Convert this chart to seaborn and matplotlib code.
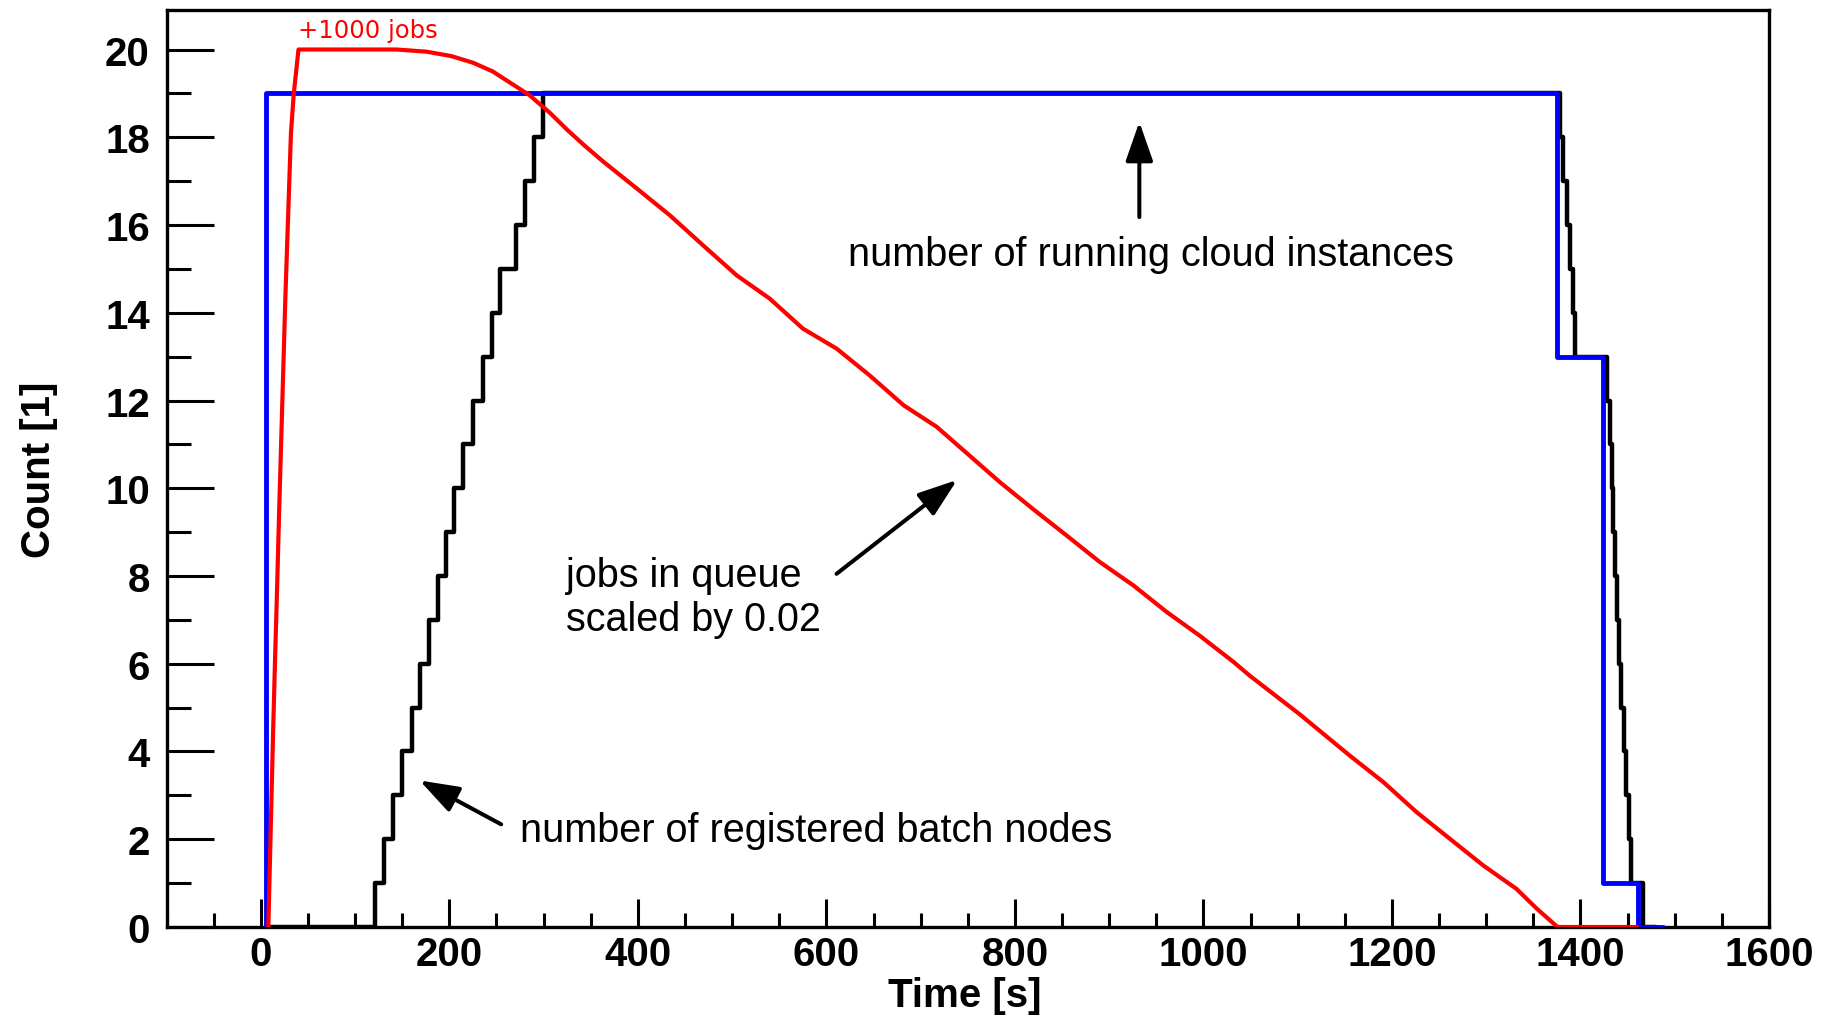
import matplotlib
matplotlib.use("Agg")
import matplotlib.pyplot as plt
from matplotlib.ticker import MultipleLocator
import seaborn as sns

# jobs in queue, scaled by 0.02 (time [s], count)
queue_t = [8, 13, 15, 17, 19.5, 26, 28.5, 32, 35, 40,
           144, 176, 202, 225, 246, 264, 285, 307, 326, 344,
           363, 399, 434, 469, 505, 540, 575, 611, 646, 682,
           717, 784, 819, 855, 890, 926, 961, 996, 1032, 1049,
           1102, 1155, 1191, 1226, 1262, 1297, 1332, 1354, 1373, 1376, 1460]
queue_v = [0, 4.4, 6.0, 7.5, 9.5, 14.3, 15.9, 18.1, 19.0, 20.0,
           20.0, 19.95, 19.85, 19.7, 19.5, 19.25, 18.96, 18.55, 18.15, 17.8,
           17.45, 16.83, 16.22, 15.54, 14.85, 14.32, 13.64, 13.18, 12.57, 11.89,
           11.4, 10.14, 9.53, 8.92, 8.32, 7.78, 7.18, 6.64, 6.04, 5.73,
           4.85, 3.91, 3.3, 2.62, 2.0, 1.40, 0.87, 0.41, 0.05, 0, 0]

# registered batch nodes (step changes)
nodes_t = [8, 121, 130.5, 140.4, 149.9, 159.9, 168.7, 178.6, 188.1, 196.3,
           204.8, 214.6, 224.6, 235.2, 245.8, 253.6, 270.6, 280.1, 289.7, 298.9,
           1378, 1381, 1386, 1389, 1392, 1394, 1428, 1431, 1433, 1435,
           1437, 1439, 1441, 1443, 1446, 1448, 1451, 1454, 1466, 1480]
nodes_v = [0, 1, 2, 3, 4, 5, 6, 7, 8, 9,
           10, 11, 12, 13, 14, 15, 16, 17, 18, 19,
           18, 17, 16, 15, 14, 13, 12, 11, 10, 9,
           8, 7, 6, 5, 4, 3, 2, 1, 0, 0]

# running cloud instances (step changes)
cloud_t = [5, 6, 1375, 1424, 1461, 1488]
cloud_v = [0, 19, 13, 1, 0, 0]

x_ticks = [0, 200, 400, 600, 800, 1000, 1200, 1400, 1600]
y_ticks = [0, 2, 4, 6, 8, 10, 12, 14, 16, 18, 20]

sns.set_style("white")
plt.rcParams["font.family"] = ["Liberation Sans", "DejaVu Sans"]
plt.rcParams["text.color"] = "black"
plt.rcParams["axes.labelcolor"] = "black"

fig = plt.figure(figsize=(18.26, 10.20), dpi=100)
ax = fig.add_axes([0.0912, 0.0902, 0.8776, 0.8990])

sns.lineplot(x=nodes_t, y=nodes_v, ax=ax, color="black", lw=3.2,
             drawstyle="steps-post", estimator=None, sort=False, zorder=2)
sns.lineplot(x=cloud_t, y=cloud_v, ax=ax, color="#0000ff", lw=3.5,
             drawstyle="steps-post", estimator=None, sort=False, zorder=3)
sns.lineplot(x=queue_t, y=queue_v, ax=ax, color="#ff0000", lw=3.0,
             estimator=None, sort=False, zorder=4)

ax.set_xlim(-100, 1600)
ax.set_ylim(0, 20.9)
ax.set_xticks(x_ticks)
ax.set_yticks(y_ticks)
ax.xaxis.set_minor_locator(MultipleLocator(50))
ax.yaxis.set_minor_locator(MultipleLocator(1))

ax.tick_params(axis="x", which="major", direction="in", length=20, width=2.2,
               labelsize=29, pad=6, color="black", labelcolor="black")
ax.tick_params(axis="x", which="minor", direction="in", length=10, width=2.2,
               color="black")
ax.tick_params(axis="y", which="major", direction="in", length=34, width=2.2,
               labelsize=29, pad=12, color="black", labelcolor="black")
ax.tick_params(axis="y", which="minor", direction="in", length=17, width=2.2,
               color="black")
ax.tick_params(bottom=True, left=True, top=False, right=False)
ax.tick_params(which="minor", bottom=True, left=True)
for lbl in ax.get_xticklabels() + ax.get_yticklabels():
    lbl.set_fontweight("bold")

for sp in ax.spines.values():
    sp.set_color("black")
    sp.set_linewidth(2.4)

ax.set_xlabel("Time [s]", fontsize=29, fontweight="bold", color="black")
ax.set_ylabel("Count [1]", fontsize=29, fontweight="bold", color="black")
ax.xaxis.set_label_coords(0.498, -0.053)
ax.yaxis.set_label_coords(-0.068, 0.5)

# annotations
arrow = dict(arrowstyle="-|>,head_length=1.2,head_width=0.42", color="black",
             lw=2.9, mutation_scale=20, shrinkA=0, shrinkB=0)
ax.text(623, 15.08, "number of running cloud instances", fontsize=28.5,
        va="baseline", color="black")
ax.annotate("", xy=(932, 18.35), xytext=(932, 16.18), arrowprops=arrow)

# va="baseline" pins the last line, so give the second line's baseline
ax.text(324.3, 6.76, "jobs in queue\nscaled by 0.02", fontsize=28.5,
        va="baseline", linespacing=1.2, color="black")
ax.annotate("", xy=(738.7, 10.19), xytext=(610.8, 8.05), arrowprops=arrow)

ax.text(274.8, 1.95, "number of registered batch nodes", fontsize=28.5,
        va="baseline", color="black")
ax.annotate("", xy=(168.5, 3.34), xytext=(255, 2.34), arrowprops=arrow)

ax.text(39.6, 20.29, "+1000 jobs", fontsize=17.5, color="#ff0000",
        family=["DejaVu Sans"], va="baseline")

fig.savefig("out.png", dpi=100)
